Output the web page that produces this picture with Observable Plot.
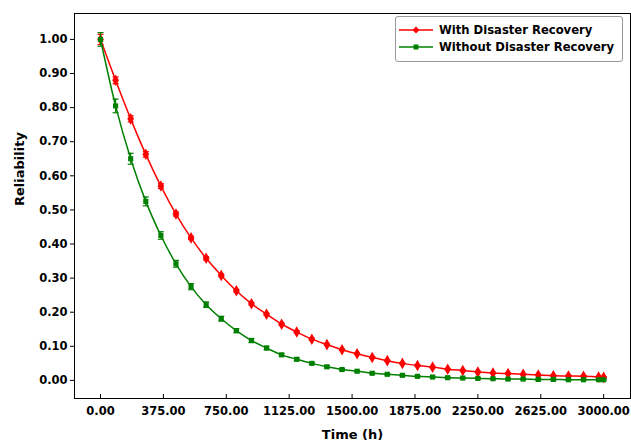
<!DOCTYPE html>
<html>
<head>
<meta charset="utf-8">
<script src="https://cdn.jsdelivr.net/npm/d3@7"></script>
<script src="https://cdn.jsdelivr.net/npm/@observablehq/plot@0.6"></script>
<style>
  body { margin: 0; background: #fff; }
  #wrap { position: relative; width: 631px; height: 440px; font-family: "DejaVu Sans", sans-serif; }
  #legend { position: absolute; left: 395px; top: 16px; width: 226px; height: 44px; border: 1px solid #999; border-radius: 3px; background: #fff; font-weight: bold; font-size: 11.6px; }
  .row { position: absolute; left: 0; height: 16px; display: flex; align-items: center; white-space: nowrap; }
  .row svg { margin-left: 3px; margin-right: 6px; flex: none; }
</style>
</head>
<body>
<div id="wrap">
  <div id="chart"></div>
  <div id="legend">
    <div class="row" style="top:5px"><svg width="34" height="10"><line x1="0" y1="5" x2="34" y2="5" stroke="red" stroke-width="1.5"/><path d="M17,1.5 L20.5,5 L17,8.5 L13.5,5Z" fill="red"/></svg><span>With Disaster Recovery</span></div>
    <div class="row" style="top:22px"><svg width="34" height="10"><line x1="0" y1="5" x2="34" y2="5" stroke="green" stroke-width="1.5"/><rect x="14.5" y="2.5" width="5" height="5" fill="green"/></svg><span>Without Disaster Recovery</span></div>
  </div>
</div>
<script>
const times = [0, 90, 180, 270, 360, 450, 540, 630, 720, 810, 900, 990, 1080, 1170, 1260, 1350, 1440, 1530, 1620, 1710, 1800, 1890, 1980, 2070, 2160, 2250, 2340, 2430, 2520, 2610, 2700, 2790, 2880, 2970, 3000];
const withDR = [1.00, 0.880, 0.767, 0.663, 0.570, 0.488, 0.418, 0.358, 0.308, 0.263, 0.225, 0.194, 0.165, 0.142, 0.121, 0.105, 0.090, 0.078, 0.067, 0.058, 0.050, 0.044, 0.039, 0.033, 0.029, 0.025, 0.022, 0.020, 0.018, 0.016, 0.014, 0.013, 0.012, 0.010, 0.009];
const withoutDR = [1.00, 0.805, 0.650, 0.525, 0.425, 0.342, 0.275, 0.222, 0.181, 0.146, 0.117, 0.095, 0.075, 0.062, 0.050, 0.040, 0.032, 0.027, 0.021, 0.018, 0.015, 0.012, 0.010, 0.008, 0.007, 0.006, 0.005, 0.004, 0.004, 0.003, 0.003, 0.002, 0.002, 0.002, 0.002];
const withErr = [0.015, 0.010, 0.009, 0.008, 0.007, 0.006, 0.005, 0.005, 0.004, 0.004, 0.004, 0.003, 0.003, 0.003, 0.003, 0.002, 0.002, 0.002, 0.002, 0.002, 0.002, 0.002, 0.002, 0.002, 0.002, 0.002, 0.002, 0.002, 0.002, 0.002, 0.002, 0.002, 0.002, 0.002, 0.002];
const withoutErr = [0.020, 0.020, 0.016, 0.013, 0.011, 0.010, 0.009, 0.008, 0.007, 0.006, 0.006, 0.005, 0.004, 0.004, 0.003, 0.003, 0.003, 0.002, 0.002, 0.002, 0.002, 0.002, 0.002, 0.002, 0.002, 0.002, 0.002, 0.002, 0.002, 0.002, 0.002, 0.002, 0.002, 0.002, 0.002];
const xTicks = [0, 375, 750, 1125, 1500, 1875, 2250, 2625, 3000];
const yTicks = [0, 0.1, 0.2, 0.3, 0.4, 0.5, 0.6, 0.7, 0.8, 0.9, 1.0];

const series = [
  {name: "With Disaster Recovery", color: "red", values: withDR, err: withErr, symbol: "diamond", r: 3.5},
  {name: "Without Disaster Recovery", color: "green", values: withoutDR, err: withoutErr, symbol: "square", r: 2.9}
];
const rows = series.flatMap(s => times.map((t, i) => ({t, v: s.values[i], e: s.err[i], name: s.name})));

const cap = {draw(ctx) { ctx.moveTo(-3, 0); ctx.lineTo(3, 0); }};

const marks = [Plot.frame({stroke: "black", strokeWidth: 1})];
for (const s of series) {
  const data = rows.filter(d => d.name === s.name);
  marks.push(
    Plot.ruleX(data, {x: "t", y1: d => d.v - d.e, y2: d => d.v + d.e, stroke: s.color, strokeWidth: 1.2}),
    Plot.dot(data, {x: "t", y: d => d.v + d.e, symbol: cap, stroke: s.color, strokeWidth: 1.2}),
    Plot.dot(data, {x: "t", y: d => d.v - d.e, symbol: cap, stroke: s.color, strokeWidth: 1.2}),
    Plot.line(data, {x: "t", y: "v", stroke: s.color, strokeWidth: 1.5, curve: "monotone-x"}),
    Plot.dot(data, {x: "t", y: "v", symbol: s.symbol, fill: s.color, r: s.r})
  );
}
marks.push(
  Plot.axisY({ticks: yTicks, tickFormat: d3.format(".2f"), tickSize: 4, tickPadding: 3, fontSize: 11.5, fontWeight: "bold", label: null}),
  Plot.axisX({ticks: xTicks, tickFormat: d3.format(".2f"), tickSize: -4, tickPadding: 12, fontSize: 11.5, fontWeight: "bold", label: null}),
  Plot.text(["Reliability"], {frameAnchor: "left", rotate: -90, dx: -55, fontSize: 13, fontWeight: "bold", fill: "black"}),
  Plot.text(["Time (h)"], {frameAnchor: "bottom", dy: 40, fontSize: 13, fontWeight: "bold", fill: "black"})
);

const chart = Plot.plot({
  width: 631, height: 440,
  marginLeft: 74, marginRight: 1, marginTop: 13, marginBottom: 42,
  style: {fontFamily: "DejaVu Sans, sans-serif", color: "black", background: "white"},
  x: {domain: [-155, 3160]},
  y: {domain: [-0.053, 1.076]},
  marks
});
document.getElementById("chart").appendChild(chart);
</script>
</body>
</html>
